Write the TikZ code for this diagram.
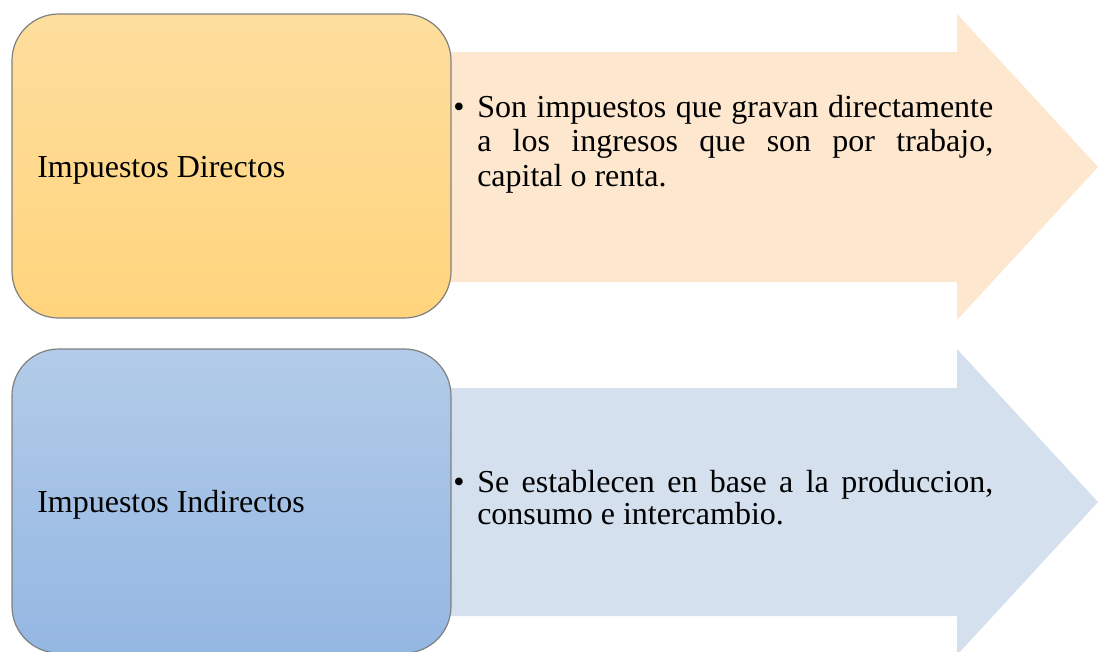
\documentclass[tikz,border=0pt]{standalone}
\usepackage{fontspec}
\setmainfont{Liberation Serif}
\usetikzlibrary{shadings}
\definecolor{dtop}{HTML}{FEDE9E}
\definecolor{dbot}{HTML}{FFD47C}
\definecolor{darrow}{HTML}{FDE7CE}
\definecolor{itop}{HTML}{B2CBE8}
\definecolor{ibot}{HTML}{94B7E2}
\definecolor{iarrow}{HTML}{D5E0EE}
\definecolor{edgegray}{HTML}{808080}
\tikzset{
  catbox/.style={draw=edgegray, line width=0.9pt, rounded corners=35pt},
  bigtext/.style={inner sep=0pt, anchor=base west, font=\fontsize{24pt}{26pt}\selectfont},
  bulletmark/.style={inner sep=0pt, anchor=base west, font=\fontsize{24pt}{26pt}\selectfont},
}
\newcommand{\jpar}[2]{\parbox[t]{387pt}{\fontsize{24pt}{#1}\selectfont\spaceskip=0.25em plus 10em minus 0pt\relax\hyphenpenalty=10000 \exhyphenpenalty=10000 \tolerance=10000 \hbadness=10000 #2}}
\begin{document}
\begin{tikzpicture}[x=0.75pt,y=-0.75pt]
\useasboundingbox (0,0) rectangle (1098,651);
% top arrow and box
\fill[darrow] (400,52) -- (957,52) -- (957,14) -- (1098,167) -- (957,320) -- (957,282) -- (400,282) -- cycle;
\path[catbox, top color=dtop, bottom color=dbot] (12,14) rectangle (451,318);
% bottom arrow and box
\fill[iarrow] (400,388) -- (957,388) -- (957,349) -- (1098,502) -- (957,655) -- (957,616) -- (400,616) -- cycle;
\path[catbox, top color=itop, bottom color=ibot] (12,349) rectangle (451,653);
% labels
\node[bigtext] (dl) at (37,177) {Impuestos Directos};
\node[bigtext] (il) at (37,512) {Impuestos Indirectos};
% bullets and texts
\node[bulletmark] (db) at (453,117) {•};
\node[bigtext] (dt) at (477,117) {\jpar{25.9pt}{Son impuestos que gravan directamente a los ingresos que son por trabajo, capital o renta.}};
\node[bulletmark] (ib) at (453,492) {•};
\node[bigtext] (it) at (477,492) {\jpar{24.4pt}{Se establecen en base a la produccion, consumo e intercambio.}};
\end{tikzpicture}
\end{document}
